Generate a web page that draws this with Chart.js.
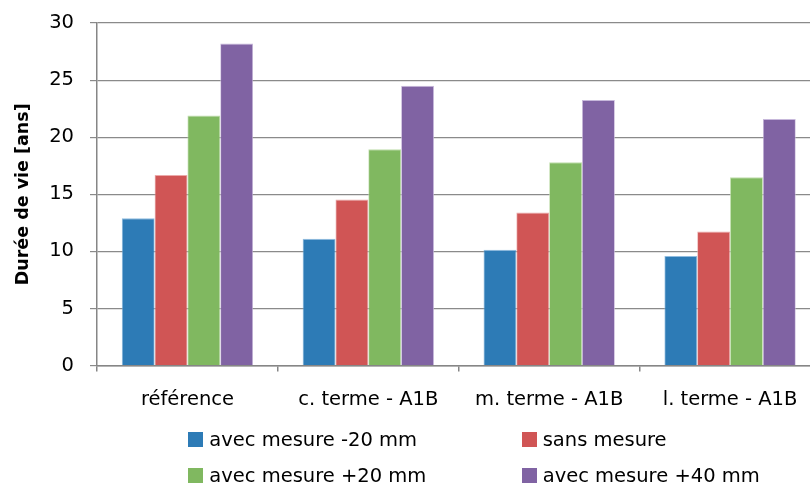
<!DOCTYPE html>
<html><head><meta charset="utf-8">
<script src="https://cdn.jsdelivr.net/npm/chart.js@4.4.1/dist/chart.umd.min.js"></script>
<style>
html,body{margin:0;padding:0;overflow:hidden;background:#fff;width:810px;height:484px;}
#wrap{position:relative;width:822px;height:484px;}
canvas{position:absolute;left:0;top:0;}
#legend{position:absolute;left:0;top:0;width:810px;height:484px;font-family:"DejaVu Sans";font-size:19.5px;color:#000;}
.item{position:absolute;display:flex;align-items:center;line-height:23px;white-space:nowrap;}
.box{width:15px;height:15px;margin-right:6px;flex:none;}
</style></head><body>
<div id="wrap"><canvas id="c" width="822" height="484" style="width:822px;height:484px"></canvas><div id="legend"></div></div>
<script>
const categories = ['référence', 'c. terme - A1B', 'm. terme - A1B', 'l. terme - A1B'];
const seriesNames = ['avec mesure -20 mm', 'sans mesure', 'avec mesure +20 mm', 'avec mesure +40 mm'];
const avecMoins20 = [12.9, 11.1, 10.15, 9.6];
const sansMesure = [16.7, 14.55, 13.4, 11.75];
const avecPlus20 = [21.9, 18.95, 17.8, 16.5];
const avecPlus40 = [28.2, 24.5, 23.25, 21.6];
const yTicks = [0, 5, 10, 15, 20, 25, 30];
const yTitle = 'Durée de vie [ans]';

const colors = ['#2D7BB6', '#D05555', '#80B860', '#8063A3'];
const edgeColors = ['#8FBCE0', '#EBA9A9', '#C0DEAC', '#C7B8DB'];
const seriesValues = [avecMoins20, sansMesure, avecPlus20, avecPlus40];
const gridColor = '#8A8A8A';
const axisColor = '#868686';
const FONT = '"DejaVu Sans"';

Chart.defaults.font.family = FONT;
Chart.defaults.color = '#000';

const chart = new Chart(document.getElementById('c'), {
  type: 'bar',
  data: {
    labels: categories,
    datasets: seriesNames.map((n, i) => ({
      label: n,
      data: seriesValues[i],
      backgroundColor: colors[i],
      borderColor: edgeColors[i],
      borderWidth: { top: 1, left: 0.8, right: 0.8, bottom: 0 },
      categoryPercentage: 0.726,
      barPercentage: 1.0
    }))
  },
  options: {
    responsive: false,
    animation: false,
    layout: { padding: { left: 0, right: 1.5, top: 23, bottom: 55 } },
    plugins: { legend: { display: false }, tooltip: { enabled: false } },
    scales: {
      x: {
        grid: { display: true, drawOnChartArea: false, drawTicks: true, tickLength: 6, color: axisColor, lineWidth: 1.5, offset: true },
        border: { display: true, color: axisColor, width: 1.5 },
        ticks: { font: { size: 19.5 }, color: '#000', padding: 17, maxRotation: 0, autoSkip: false }
      },
      y: {
        min: 0, max: 30,
        afterBuildTicks: s => { s.ticks = yTicks.map(v => ({ value: v })); },
        afterFit: s => { s.width = 97; s.paddingTop = 11; s.paddingBottom = 11; },
        grid: { color: gridColor, lineWidth: 1.2, drawTicks: true, tickLength: 7 },
        border: { display: true, color: axisColor, width: 1.5 },
        ticks: { font: { size: 19.5 }, color: '#000', padding: 16 },
        title: { display: true, text: yTitle, font: { size: 17.5, weight: 'bold' }, color: '#000', padding: { top: 12.5, bottom: 4 } }
      }
    }
  }
});

// Legend (2 columns x 2 rows) built from the series names and colours
const legendEl = document.getElementById('legend');
const colLeft = [188.3, 521.7];
const rowTop = [428.4, 463.8];
seriesNames.forEach((n, i) => {
  const it = document.createElement('div');
  it.className = 'item';
  it.style.left = colLeft[i % 2] + 'px';
  it.style.top = rowTop[Math.floor(i / 2)] + 'px';
  const b = document.createElement('span');
  b.className = 'box';
  b.style.background = colors[i];
  const t = document.createElement('span');
  t.textContent = n;
  it.appendChild(b); it.appendChild(t);
  legendEl.appendChild(it);
});
</script>
</body></html>
